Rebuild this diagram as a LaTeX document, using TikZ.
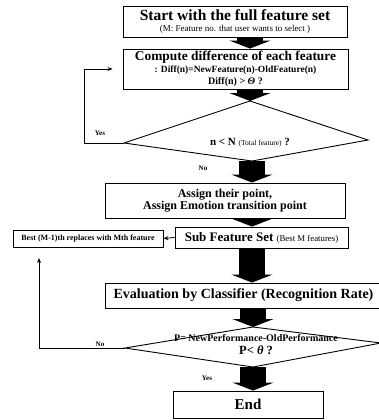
\documentclass[tikz,border=0pt]{standalone}
\usepackage{fontspec}
\setmainfont{Liberation Serif}
\usetikzlibrary{arrows.meta}
\begin{document}
\begin{tikzpicture}[x=1pt,y=-1pt,
  box/.style={draw,line width=0.9pt,inner sep=0pt,align=center},
  bigarrow/.style={line width=26pt,-{Triangle[width=41pt,length=8pt]}},
  thinarrow/.style={line width=0.8pt,-{Stealth[length=5pt,width=4pt]}},
  lbl/.style={font=\fontsize{7}{8}\selectfont\bfseries}]
\useasboundingbox (0,0) rectangle (378,420);

\node[box,minimum width=224pt,minimum height=31pt] (start) at (235,21.5)
  {\fontsize{15.5}{15}\selectfont\bfseries Start with the full feature set\\[-1pt]
   \fontsize{9}{9}\selectfont (M: Feature no. that user wants to select )};
\node[box,minimum width=225pt,minimum height=40pt] (diff) at (235.5,69)
  {\fontsize{13.4}{13}\selectfont\bfseries Compute difference of each feature\\[0pt]
   \fontsize{9.5}{11}\selectfont\bfseries : Diff(n)=NewFeature(n)-OldFeature(n)\\
   \fontsize{10}{12}\selectfont\bfseries Diff(n) > {\itshape Θ} ?};

% decision n < N
\coordinate (d1t) at (250,101);
\coordinate (d1r) at (368,140);
\coordinate (d1b) at (252,161);
\coordinate (d1l) at (124,143);
\draw[line width=0.9pt] (d1t) -- (d1r) -- (d1b) -- (d1l) -- cycle;
\node (check) at (250,143) {\fontsize{11}{12}\selectfont\bfseries n < N
  {\fontsize{7.5}{8}\selectfont\mdseries (Total feature)} ?};

\node[box,minimum width=240pt,minimum height=35pt] (assign) at (225,200.5)
  {\fontsize{12}{15}\selectfont\bfseries Assign their point,\\
   \fontsize{12}{15}\selectfont\bfseries Assign Emotion transition point};
\node[box,minimum width=150pt,minimum height=17pt] (best) at (88,238.5)
  {\fontsize{8}{9}\selectfont\bfseries Best (M-1)th replaces with Mth feature};
\node[box,minimum width=173pt,minimum height=21pt] (sub) at (261.5,237.5)
  {\fontsize{13}{14}\selectfont\bfseries Sub Feature Set
   {\fontsize{8.8}{9}\selectfont\mdseries (Best M features)}};
\node[box,minimum width=277pt,minimum height=25pt] (eval) at (243.5,295.5)
  {\fontsize{14}{15}\selectfont\bfseries Evaluation by Classifier (Recognition Rate)};

% decision P < theta
\coordinate (d2t) at (253,327);
\coordinate (d2r) at (381,343);
\coordinate (d2b) at (253,367);
\coordinate (d2l) at (125,348);
\draw[line width=0.9pt] (d2t) -- (d2r) -- (d2b) -- (d2l) -- cycle;
\node[align=center,inner sep=0pt] (perf) at (256,345)
  {\fontsize{10}{11}\selectfont\bfseries P= NewPerformance-OldPerformance\\[1pt]
   \fontsize{12.5}{13}\selectfont\bfseries P< {\itshape θ} ?};

\node[box,minimum width=150pt,minimum height=27pt] (stop) at (248,404.5)
  {\fontsize{15}{16}\selectfont\bfseries End};

\coordinate (loopend) at (39,258);

\draw[bigarrow] (start.south -| d1t) -- (diff.north -| d1t);
\draw[bigarrow] (diff.south -| d1t) -- (d1t);
\draw[thinarrow,shorten >=10pt] (d1l) -- ++(-40,0) |- (diff.west);
\node[lbl] at (100,133) {Yes};
\node[lbl] at (203,168) {No};
\draw[bigarrow] (d1b) -- (d1b |- assign.north);
\draw[bigarrow] (assign.south -| d1b) -- (sub.north -| d1b);
\draw[thinarrow] (sub.west) -- (best.east);
\draw[bigarrow] (sub.south -| d1b) -- (eval.north -| d1b);
\draw[bigarrow] (eval.south -| d2t) -- (d2t);
\draw[thinarrow] (d2l) -| (loopend);
\node[lbl] at (100,344) {No};
\draw[bigarrow] (d2b) -- (d2b |- stop.north);
\node[lbl] at (207,378) {Yes};
\end{tikzpicture}
\end{document}
